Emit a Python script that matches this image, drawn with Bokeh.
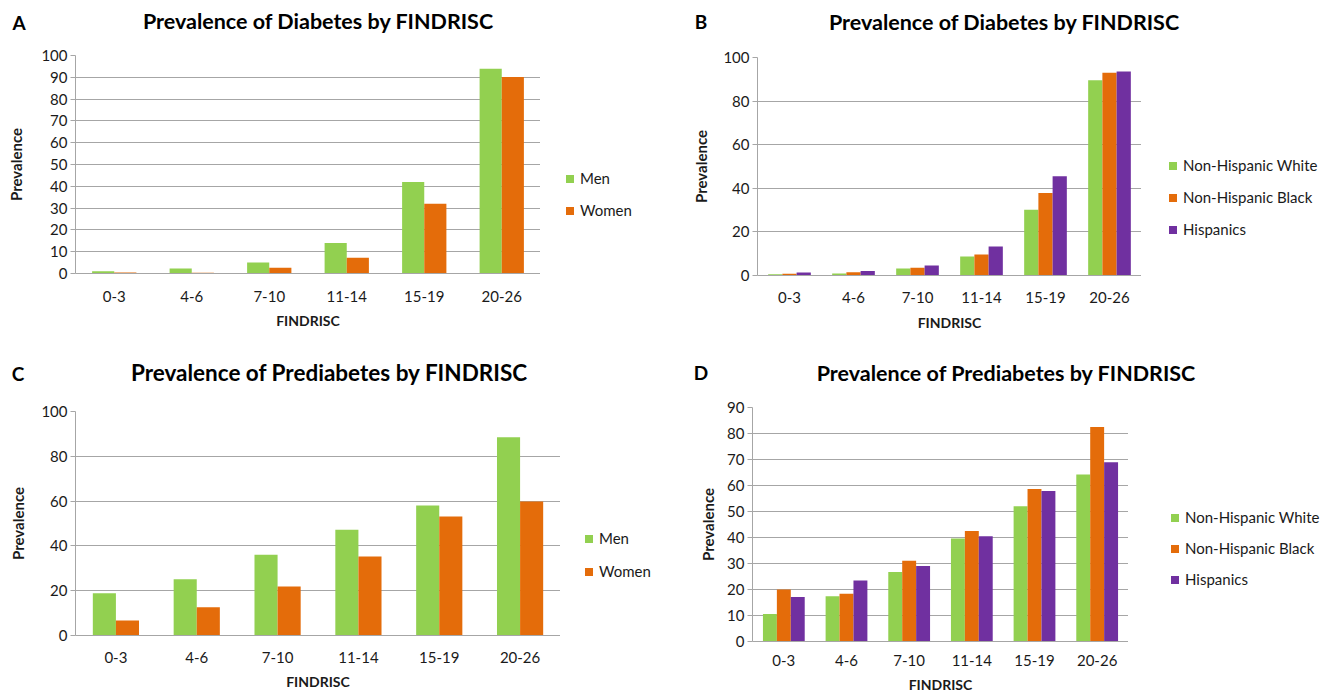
from bokeh.plotting import figure
from bokeh.models import FactorRange, Range1d, ColumnDataSource, FixedTicker, Div
from bokeh.layouts import column, row
from bokeh.transform import dodge
from bokeh.embed import file_html
from bokeh.resources import INLINE

categories = ["0-3", "4-6", "7-10", "11-14", "15-19", "20-26"]

# Panel A: diabetes by sex
a_men = [1.0, 2.3, 5.0, 14.0, 42.0, 93.9]
a_women = [0.5, 0.3, 2.6, 7.2, 32.0, 90.1]
# Panel B: diabetes by race/ethnicity
b_white = [0.6, 0.9, 3.2, 8.7, 30.2, 89.6]
b_black = [0.8, 1.5, 3.5, 9.6, 37.9, 93.0]
b_hisp = [1.4, 2.1, 4.6, 13.3, 45.5, 93.6]
# Panel C: prediabetes by sex
c_men = [18.9, 25.1, 36.0, 47.2, 58.0, 88.5]
c_women = [6.7, 12.6, 21.9, 35.3, 53.1, 59.8]
# Panel D: prediabetes by race/ethnicity
d_white = [10.6, 17.4, 26.7, 39.6, 52.0, 64.2]
d_black = [20.0, 18.4, 31.1, 42.5, 58.7, 82.5]
d_hisp = [17.1, 23.5, 29.0, 40.5, 57.9, 68.9]

sex_names = ["Men", "Women"]
race_names = ["Non-Hispanic White", "Non-Hispanic Black", "Hispanics"]
GREEN, ORANGE, PURPLE = "#92D050", "#E46C0A", "#7030A0"
GRID = "#A6A6A6"
FONT = "Lato"
TXT = "#1a1a1a"


def text_div(text, w, h, cy, size):
    line = 28
    pad = max(0, int(round(cy - line / 2.0)))
    html = ('<div style="width:%dpx;padding-top:%dpx;line-height:%dpx;text-align:center;'
            'font-family:Lato;font-size:%s;font-weight:bold;color:#000;white-space:nowrap;'
            'margin:0;">%s</div>' % (w, pad, line, size, text))
    return Div(text=html, width=w, height=h, margin=(0, 0, 0, 0))


def legend_div(names, colors, w, h, left, first_top, step):
    parts = []
    for i, (nm, col) in enumerate(zip(names, colors)):
        parts.append(
            '<div style="position:absolute;left:%dpx;top:%dpx;height:20px;line-height:20px;'
            'white-space:nowrap;">'
            '<span style="display:inline-block;width:8px;height:8px;background:%s;'
            'margin-right:6px;vertical-align:middle;position:relative;top:-1px;"></span>%s</div>'
            % (left, first_top + i * step, col, nm))
    html = ('<div style="position:relative;width:%dpx;height:%dpx;font-family:Lato;'
            'font-size:15px;color:%s;">%s</div>' % (w, h, TXT, "".join(parts)))
    return Div(text=html, width=w, height=h, margin=(0, 0, 0, 0))


def panel(x0, y0, x1, fig_bottom, frame_box, ymax, yticks, series, colors, names,
          title, title_c, title_size, letter, letter_c, head_h,
          legend_left, legend_first_center, legend_step,
          ylab_standoff, xtick_standoff, xlab_standoff):
    fl, fr, ft, fb = frame_box
    fig_top = y0 + head_h
    p = figure(frame_width=fr - fl, frame_height=fb - ft,
               x_range=FactorRange(*categories), y_range=Range1d(0, ymax),
               output_backend="svg", toolbar_location=None, title=None,
               min_border_left=fl - x0, min_border_right=0,
               min_border_top=ft - fig_top, min_border_bottom=fig_bottom - fb)
    p.outline_line_color = None
    p.background_fill_color = "white"
    p.border_fill_color = "white"
    p.xgrid.grid_line_color = None
    p.ygrid.grid_line_color = GRID
    p.ygrid.grid_line_width = 1
    p.yaxis.ticker = FixedTicker(ticks=yticks)
    p.yaxis.minor_tick_line_color = None
    p.yaxis.major_tick_out = 5
    p.yaxis.major_tick_in = 0
    p.yaxis.major_tick_line_color = GRID
    p.yaxis.axis_line_color = GRID
    p.xaxis.axis_line_color = GRID
    p.xaxis.major_tick_line_color = None
    p.xaxis.minor_tick_line_color = None
    for ax in (p.xaxis[0], p.yaxis[0]):
        ax.major_label_text_font = FONT
        ax.major_label_text_font_size = "15px"
        ax.major_label_text_color = TXT
        ax.axis_label_text_font = FONT
        ax.axis_label_text_font_style = "bold"
        ax.axis_label_text_color = TXT
    p.xaxis.axis_label_text_font_size = "14px"
    p.yaxis.axis_label_text_font_size = "15px"
    p.yaxis.major_label_standoff = 3
    p.xaxis.major_label_standoff = xtick_standoff
    p.xaxis.axis_label = "FINDRISC"
    p.yaxis.axis_label = "Prevalence"
    p.yaxis.axis_label_standoff = ylab_standoff
    p.xaxis.axis_label_standoff = xlab_standoff

    n = len(series)
    bw = 1.0 / (n + 1.5)
    data = {"x": categories}
    for i, s in enumerate(series):
        data["s%d" % i] = s
    src = ColumnDataSource(data)
    for i in range(n):
        off = (i - (n - 1) / 2.0) * bw
        p.vbar(x=dodge("x", off, range=p.x_range), top="s%d" % i, width=bw, source=src,
               fill_color=colors[i], line_color=None)

    lg = legend_div(names, colors, x1 - fr, fig_bottom - fig_top, legend_left - fr,
                    int(round(legend_first_center - 10 - fig_top)), legend_step)

    lcx, lcy = letter_c
    tcx, tcy = title_c
    lw = 2 * (lcx - x0)
    letter_div = text_div(letter, lw, head_h, lcy - y0, "19px")
    tw = 2 * (tcx - (x0 + lw))
    title_div = text_div(title, tw, head_h, tcy - y0, title_size)
    return column(row(letter_div, title_div), row(p, lg))


ROW1_BOTTOM, ROW2_BOTTOM = 345, 694

pA = panel(0, 0, 660, ROW1_BOTTOM, (75, 540, 55, 273), 100, list(range(0, 101, 10)),
           [a_men, a_women], [GREEN, ORANGE], sex_names,
           "Prevalence of Diabetes by FINDRISC", (318, 21), "21.5px", "A", (19, 23), 40,
           566, 178, 32, 13, 11, 7)
pB = panel(660, 0, 1330, ROW1_BOTTOM, (757, 1141, 57, 275), 100, list(range(0, 101, 20)),
           [b_white, b_black, b_hisp], [GREEN, ORANGE, PURPLE], race_names,
           "Prevalence of Diabetes by FINDRISC", (1004, 22), "21.5px", "B", (701, 22), 40,
           1169, 165, 32, 10, 10, 8)
pC = panel(0, ROW1_BOTTOM, 660, ROW2_BOTTOM, (75, 560, 411, 635), 100, list(range(0, 101, 20)),
           [c_men, c_women], [GREEN, ORANGE], sex_names,
           "Prevalence of Prediabetes by FINDRISC", (329, 373), "22.5px", "C", (18, 374), 44,
           585, 538, 33, 11, 10, 7)
pD = panel(660, ROW1_BOTTOM, 1330, ROW2_BOTTOM, (752, 1128, 407, 641), 90, list(range(0, 91, 10)),
           [d_white, d_black, d_hisp], [GREEN, ORANGE, PURPLE], race_names,
           "Prevalence of Prediabetes by FINDRISC", (1006, 373), "21.5px", "D", (701, 373), 44,
           1171, 517, 31, 7, 7, 7)

layout = column(row(pA, pB), row(pC, pD))
open("out.html", "w").write(file_html(layout, INLINE))
